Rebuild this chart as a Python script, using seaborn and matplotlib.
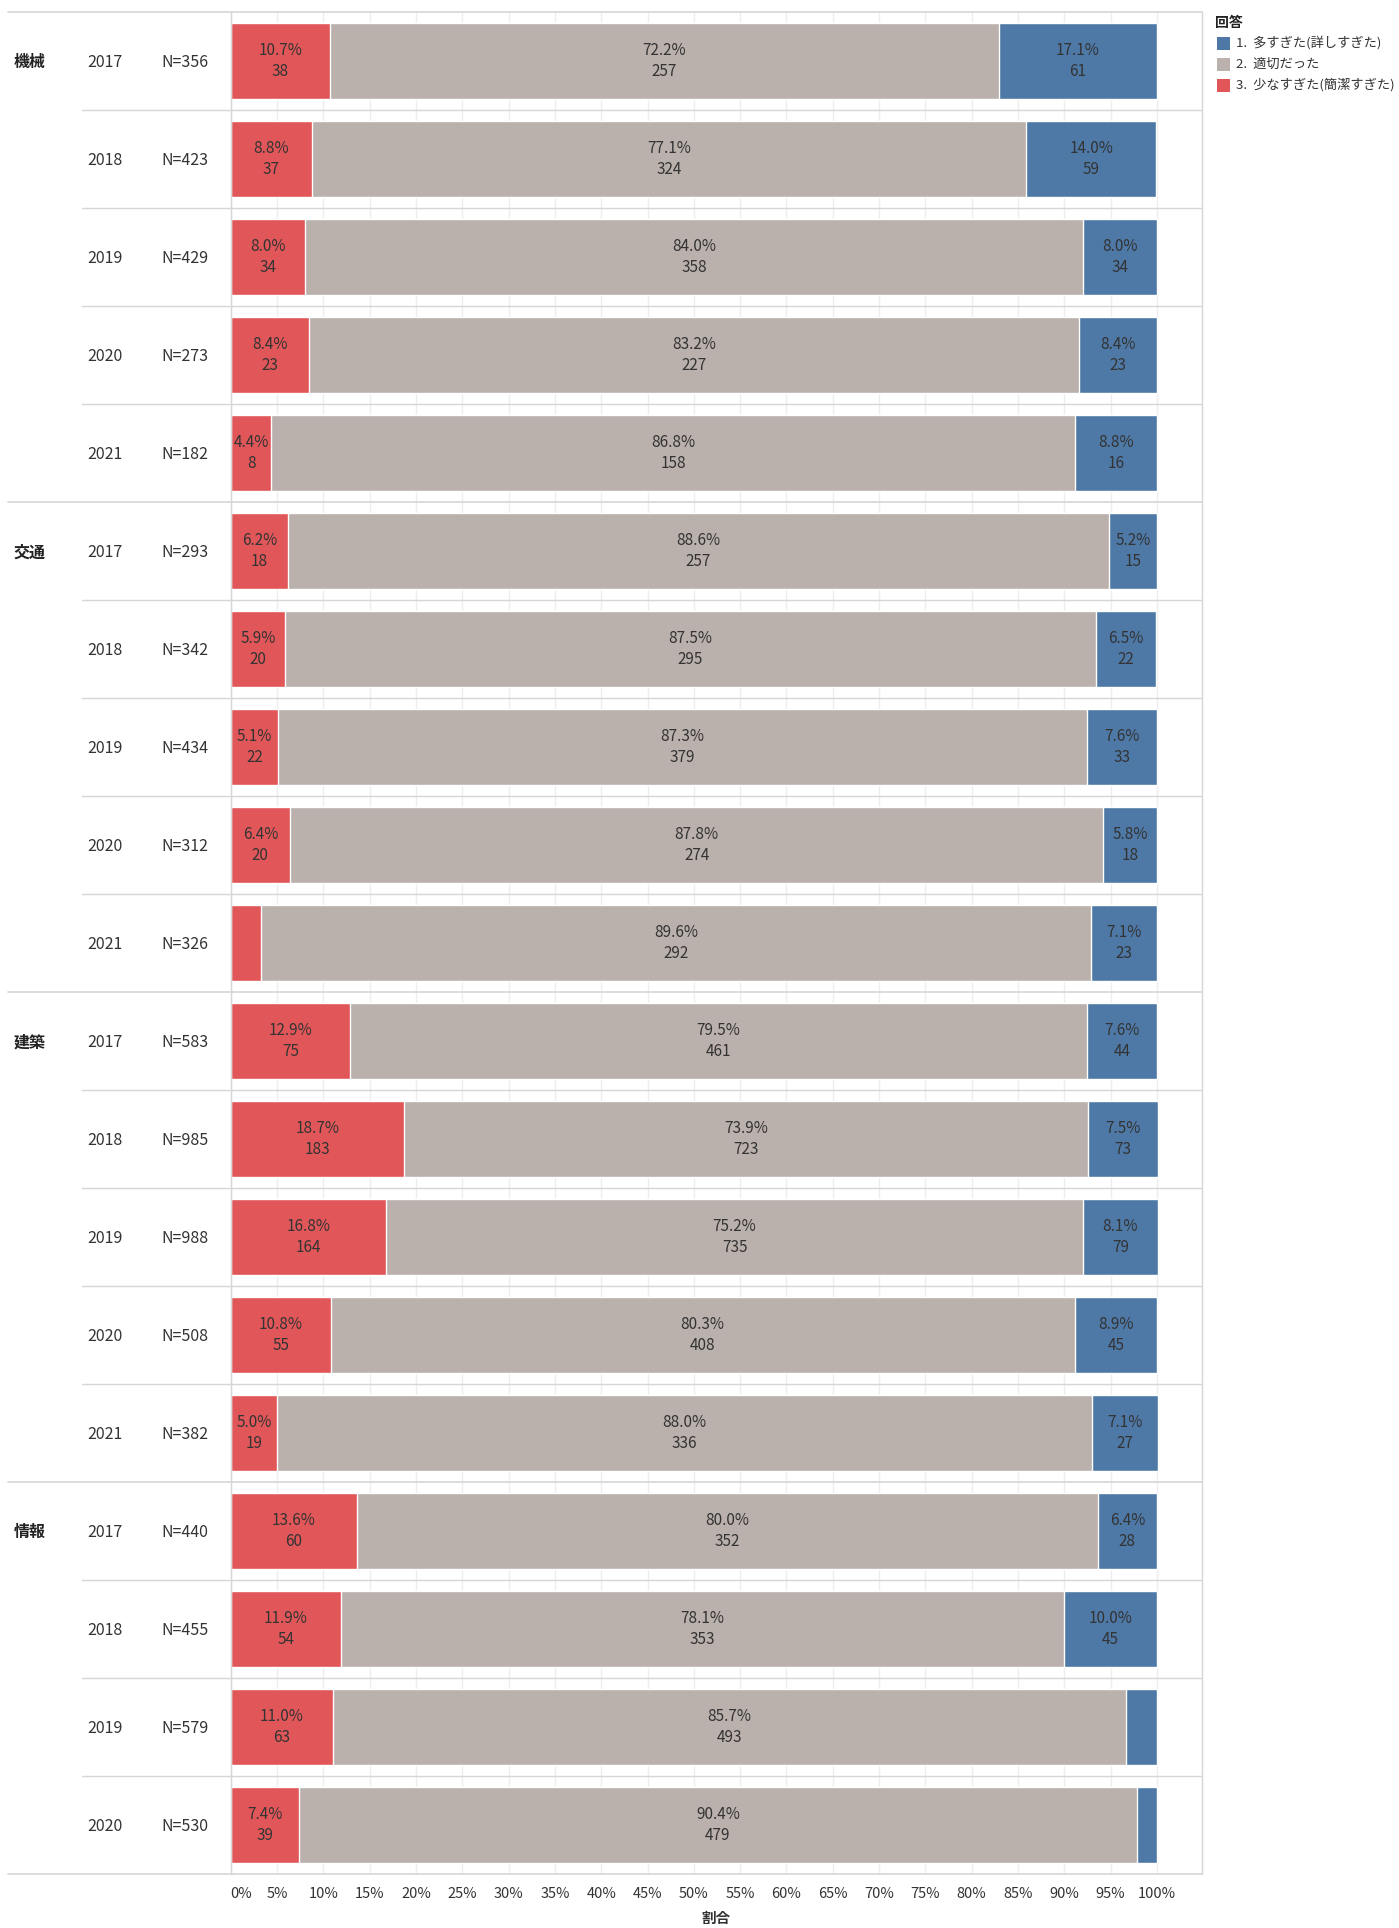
import matplotlib
matplotlib.use("Agg")
import matplotlib.pyplot as plt
import pandas as pd
import seaborn as sns
from matplotlib.lines import Line2D
from matplotlib.patches import Rectangle
from matplotlib.transforms import blended_transform_factory

# ---- survey answers: share (%) and count per field / year ----
fields = ["機械"] * 5 + ["交通"] * 5 + ["建築"] * 5 + ["情報"] * 4
years = [2017, 2018, 2019, 2020, 2021] * 3 + [2017, 2018, 2019, 2020]
n_total = [356, 423, 429, 273, 182,
           293, 342, 434, 312, 326,
           583, 985, 988, 508, 382,
           440, 455, 579, 530]

# 3. 少なすぎた（簡潔すぎた）
pct_few = [10.7, 8.8, 8.0, 8.4, 4.4,
           6.2, 5.9, 5.1, 6.4, 3.3,
           12.9, 18.7, 16.8, 10.8, 5.0,
           13.6, 11.9, 11.0, 7.4]
cnt_few = [38, 37, 34, 23, 8,
           18, 20, 22, 20, None,
           75, 183, 164, 55, 19,
           60, 54, 63, 39]

# 2. 適切だった
pct_ok = [72.2, 77.1, 84.0, 83.2, 86.8,
          88.6, 87.5, 87.3, 87.8, 89.6,
          79.5, 73.9, 75.2, 80.3, 88.0,
          80.0, 78.1, 85.7, 90.4]
cnt_ok = [257, 324, 358, 227, 158,
          257, 295, 379, 274, 292,
          461, 723, 735, 408, 336,
          352, 353, 493, 479]

# 1. 多すぎた（詳しすぎた）
pct_many = [17.1, 14.0, 8.0, 8.4, 8.8,
            5.2, 6.5, 7.6, 5.8, 7.1,
            7.6, 7.5, 8.1, 8.9, 7.1,
            6.4, 10.0, 3.3, 2.2]
cnt_many = [61, 59, 34, 23, 16,
            15, 22, 33, 18, 23,
            44, 73, 79, 45, 27,
            28, 45, None, None]

legend_labels = ["1.  多すぎた(詳しすぎた)", "2.  適切だった", "3.  少なすぎた(簡潔すぎた)"]
x_ticks = list(range(0, 101, 5))

C_MANY = "#4e79a7"
C_OK = "#bab0ac"
C_FEW = "#e15759"
TXT = "#333333"
SEP = "#d6d6d6"

sns.set_theme(style="white")
plt.rcParams["font.family"] = ["Noto Sans CJK JP", "DejaVu Sans"]

W, H = 1399, 1928
fig = plt.figure(figsize=(W / 100, H / 100), dpi=100)
ax_left, ax_right, ax_top, ax_bot = 230.7, 1202, 12, 1874
ax = fig.add_axes([ax_left / W, 1 - ax_bot / H, (ax_right - ax_left) / W, (ax_bot - ax_top) / H])

df = pd.DataFrame({
    "row": [f"{f} {y}" for f, y in zip(fields, years)],
    "few": pct_few,
    "ok": pct_ok,
    "many": pct_many,
})
df["cum_ok"] = df["few"] + df["ok"]
df["cum_many"] = df["cum_ok"] + df["many"]

# stacked horizontal bars drawn as overlapping cumulative bars
bw = 0.775
sns.barplot(data=df, x="cum_many", y="row", color=C_MANY, saturation=1,
            width=bw, errorbar=None, orient="h", ax=ax, zorder=2)
sns.barplot(data=df, x="cum_ok", y="row", color=C_OK, saturation=1,
            width=bw, errorbar=None, orient="h", ax=ax, zorder=2)
sns.barplot(data=df, x="few", y="row", color=C_FEW, saturation=1,
            width=bw, errorbar=None, orient="h", ax=ax, zorder=2)

nrows = len(df)
ax.set_ylim(nrows - 0.5, -0.5)
ax.set_xlim(0, (ax_right - ax_left) / 926.3 * 100)
ax.set_yticks([])
ax.set_ylabel("")
ax.set_xticks(x_ticks)
ax.set_xticklabels([f"{t}%" for t in x_ticks], fontsize=10.5, color=TXT)
ax.get_xticklabels()[0].set_horizontalalignment("left")
ax.tick_params(axis="x", length=0, pad=9)
ax.set_xlabel("割合", fontsize=10.5, color=TXT, fontweight="bold", labelpad=7)
ax.grid(axis="x", color="#eeeeee", linewidth=1)
ax.set_axisbelow(True)
for side in ["top", "bottom"]:
    ax.spines[side].set_visible(False)
for side in ["left", "right"]:
    ax.spines[side].set_color(SEP)
    ax.spines[side].set_linewidth(1)

# segment labels: share on top line, count below
off = 7.5
lab_fs = 11
for i in range(nrows):
    segs = [
        (0, pct_few[i], cnt_few[i]),
        (pct_few[i], pct_ok[i], cnt_ok[i]),
        (pct_few[i] + pct_ok[i], pct_many[i], cnt_many[i]),
    ]
    for start, width, cnt in segs:
        if cnt is None:
            continue
        cx = start + width / 2
        ax.annotate(f"{width:.1f}%", (cx, i), xytext=(0, off), textcoords="offset points",
                    ha="center", va="center", fontsize=lab_fs, color=TXT)
        ax.annotate(f"{cnt}", (cx, i), xytext=(0, -off), textcoords="offset points",
                    ha="center", va="center", fontsize=lab_fs, color=TXT)

# row headers and separators
tr = blended_transform_factory(fig.transFigure, ax.transData)
hdr_fs = 11.5
for i in range(nrows):
    yc = i + 0.012
    if i == 0 or fields[i] != fields[i - 1]:
        fig.text(14 / W, yc, fields[i], transform=tr, ha="left", va="center",
                 fontsize=hdr_fs, color="#222222", fontweight="bold")
    fig.text(87 / W, yc, str(years[i]), transform=tr, ha="left", va="center",
             fontsize=hdr_fs, color=TXT)
    fig.text(161 / W, yc, f"N={n_total[i]}", transform=tr, ha="left", va="center",
             fontsize=hdr_fs, color=TXT)

for i in range(nrows + 1):
    y = i - 0.5
    group_edge = i == 0 or i == nrows or fields[i] != fields[i - 1]
    x0 = 8 if group_edge else 82
    fig.add_artist(Line2D([x0 / W, ax_right / W], [y, y], transform=tr,
                          color=SEP, linewidth=1.2 if group_edge else 1))

# legend
fig.text(1215 / W, 1 - 23 / H, "回答", ha="left", va="center", fontsize=10,
         fontweight="bold", color="#222222")
for k, (lab, col) in enumerate(zip(legend_labels, [C_MANY, C_OK, C_FEW])):
    yc = 43 + 21 * k
    fig.add_artist(Rectangle((1217 / W, 1 - (yc + 6.5) / H), 13 / W, 13 / H,
                             transform=fig.transFigure, facecolor=col, edgecolor="none"))
    fig.text(1236 / W, 1 - yc / H, lab, ha="left", va="center", fontsize=9.5, color=TXT)

fig.savefig("out.png", dpi=100, facecolor="white")
